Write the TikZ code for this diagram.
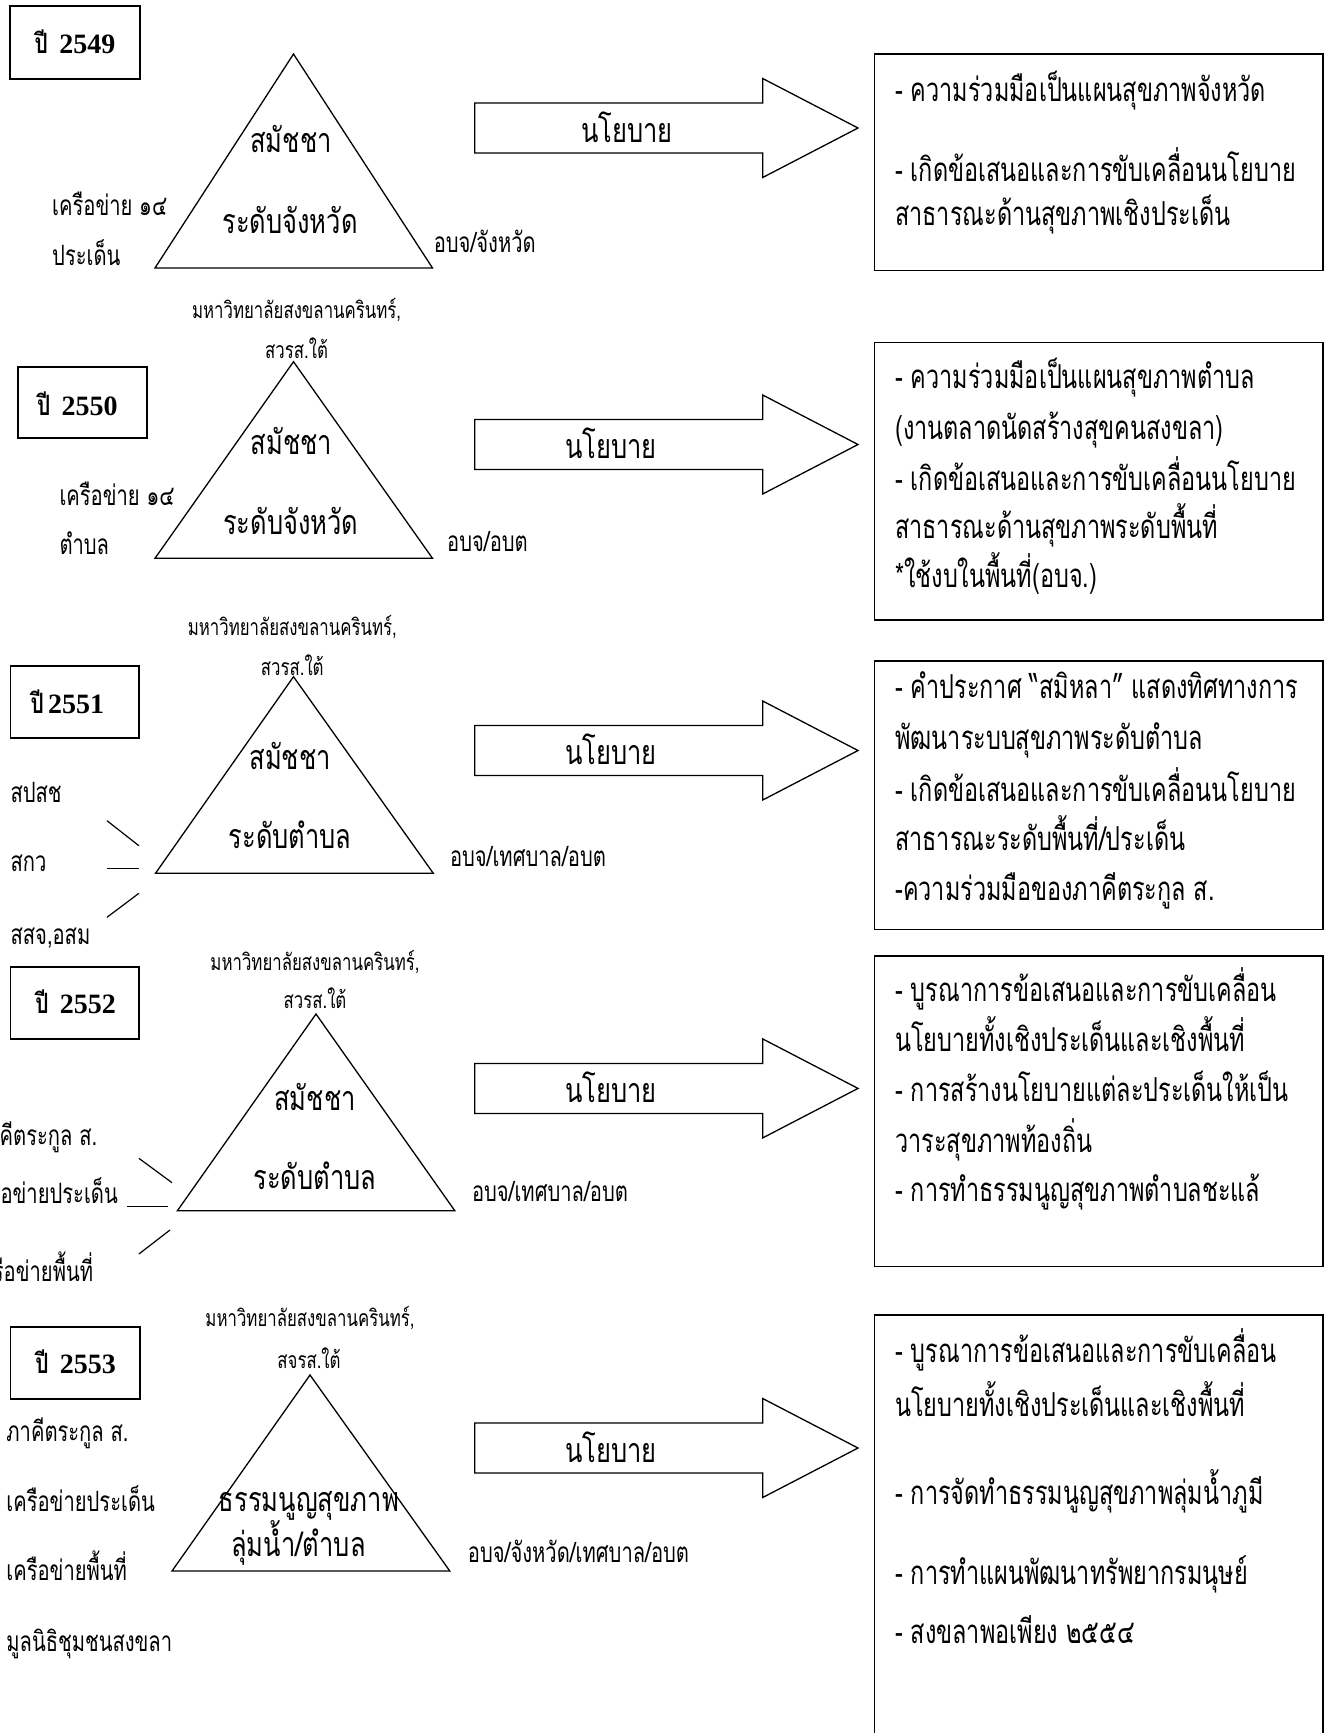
\documentclass[tikz,border=0pt]{standalone}
\usepackage{fontspec}
\setmainfont{Liberation Serif}
\newfontfamily\thai[Script=Thai,FakeStretch=0.75]{Loma}
\newfontfamily\thaibody[Script=Thai,FakeStretch=0.71]{Loma}
\newfontfamily\thaiside[Script=Thai,FakeStretch=0.72]{Loma}
\newfontfamily\thaismall[Script=Thai,FakeStretch=0.73]{Loma}
\tikzset{
  yearbox/.style={draw, line width=1.8pt, inner sep=0pt},
  yeartxt/.style={anchor=base, inner sep=0pt, font=\fontsize{28}{28}\selectfont\bfseries},
  tri/.style={draw, line width=1.3pt, line join=miter},
  arrowshape/.style={draw, line width=1.3pt},
  infobox/.style={draw, line width=1.3pt, inner sep=0pt},
  lbl/.style={anchor=base, inner sep=0pt, font=\thai\fontsize{34}{34}\selectfont},
  bodytxt/.style={anchor=base west, inner sep=0pt, font=\thaibody\fontsize{33}{33}\selectfont},
  sidel/.style={anchor=base west, inner sep=0pt, font=\thaiside\fontsize{28}{28}\selectfont},
  sider/.style={anchor=base east, inner sep=0pt, font=\thaiside\fontsize{28}{28}\selectfont},
  smalltxt/.style={anchor=base, inner sep=0pt, font=\thaismall\fontsize{23}{23}\selectfont},
  link/.style={draw, line width=1.2pt},
}
\newcommand\policyarrow[3]{%
  \draw[arrowshape] (474.7,#2-25) -- (762.7,#2-25) -- (762.7,#2-49.5) -- (858,#2)
    -- (762.7,#2+49.5) -- (762.7,#2+25) -- (474.7,#2+25) -- cycle;
  \node[lbl] (#1) at (#3,#2+14) {นโยบาย};}
\begin{document}
\begin{tikzpicture}[x=1pt,y=-1pt]
\useasboundingbox (0,0) rectangle (1330,1733);
\fill[white] (0,0) rectangle (1330,1733);

% ---------- 2549 ----------
\node[yearbox, minimum width=130, minimum height=73] (yb1) at (75,42.5) {};
\node[yeartxt] (yt1) at (75,53.4) {{\thai ปี}\hspace{0.4em}2549};
\coordinate (t1a) at (293.5,54);
\coordinate (t1l) at (155,268);
\coordinate (t1r) at (432.5,268);
\draw[tri] (t1a) -- (t1l) -- (t1r) -- cycle;
\node[lbl] (t1u) at (291,152) {สมัชชา};
\node[lbl] (t1d) at (290,233) {ระดับจังหวัด};
\node[sidel] (l1a) at (52,215) {เครือข่าย ๑๔};
\node[sidel] (l1b) at (52,265) {ประเด็น};
\node[sidel] (r1) at (433.6,252.5) {อบจ/จังหวัด};
\policyarrow{p1}{128}{627}
\node[infobox, minimum width=448.3, minimum height=216.7] (b1) at (1098.85,162.35) {};
\node[bodytxt] (b1l1) at (895,101) {- ความร่วมมือเป็นแผนสุขภาพจังหวัด};
\node[bodytxt] (b1l2) at (895,181.7) {- เกิดข้อเสนอและการขับเคลื่อนนโยบาย};
\node[bodytxt] (b1l3) at (895,225) {สาธารณะด้านสุขภาพเชิงประเด็น};

% ---------- 2550 ----------
\node[smalltxt] (s2a) at (296.6,318.3) {มหาวิทยาลัยสงขลานครินทร์,};
\node[smalltxt] (s2b) at (296.6,358.3) {สวรส.ใต้};
\node[yearbox, minimum width=128.6, minimum height=71.6] (yb2) at (82.3,402.5) {};
\node[yeartxt] (yt2) at (77.4,415) {{\thai ปี}\hspace{0.4em}2550};
\coordinate (t2a) at (293.5,361.7);
\coordinate (t2l) at (155,558.3);
\coordinate (t2r) at (432.5,558.3);
\draw[tri] (t2a) -- (t2l) -- (t2r) -- cycle;
\node[lbl] (t2u) at (291.6,454) {สมัชชา};
\node[lbl] (t2d) at (290.9,534.5) {ระดับจังหวัด};
\node[sidel] (l2a) at (59.3,505.5) {เครือข่าย ๑๔};
\node[sidel] (l2b) at (59.3,554.5) {ตำบล};
\node[sidel] (r2) at (447,551.7) {อบจ/อบต};
\policyarrow{p2}{444.5}{611}
\node[infobox, minimum width=448.3, minimum height=277.3] (b2) at (1098.85,481.35) {};
\node[bodytxt] (b2l1) at (895,388) {- ความร่วมมือเป็นแผนสุขภาพตำบล};
\node[bodytxt] (b2l2) at (895,439) {(งานตลาดนัดสร้างสุขคนสงขลา)};
\node[bodytxt] (b2l3) at (895,490) {- เกิดข้อเสนอและการขับเคลื่อนนโยบาย};
\node[bodytxt] (b2l4) at (895,538.5) {สาธารณะด้านสุขภาพระดับพื้นที่};
\node[bodytxt] (b2l5) at (895,587) {*ใช้งบในพื้นที่(อบจ.)};

% ---------- 2551 ----------
\node[smalltxt] (s3a) at (292.3,635) {มหาวิทยาลัยสงขลานครินทร์,};
\node[smalltxt] (s3b) at (292.3,675) {สวรส.ใต้};
\node[yearbox, minimum width=128.5, minimum height=72.3] (yb3) at (74.65,702.15) {};
\node[yeartxt] (yt3) at (67.4,713.3) {{\thai ปี}\hspace{0.15em}2551};
\coordinate (t3a) at (293.5,676.7);
\coordinate (t3l) at (155.5,873.3);
\coordinate (t3r) at (433.3,873.3);
\draw[tri] (t3a) -- (t3l) -- (t3r) -- cycle;
\node[lbl] (t3u) at (290.2,769.5) {สมัชชา};
\node[lbl] (t3d) at (290.2,848.5) {ระดับตำบล};
\node[sidel] (l3a) at (10.4,802) {สปสช};
\node[sidel] (l3b) at (10.4,871.5) {สกว};
\node[sidel] (l3c) at (10.4,944) {สสจ,อสม};
\coordinate (c3a1) at (107,820.7);  \coordinate (c3a2) at (138.9,845.7);
\coordinate (c3b1) at (107,868.3);  \coordinate (c3b2) at (138.9,868.3);
\coordinate (c3c1) at (107,917.3);  \coordinate (c3c2) at (138.9,893.3);
\draw[link] (c3a1) -- (c3a2);
\draw[link] (c3b1) -- (c3b2);
\draw[link] (c3c1) -- (c3c2);
\node[sidel] (r3) at (449.8,866) {อบจ/เทศบาล/อบต};
\policyarrow{p3}{750.5}{611}
\node[infobox, minimum width=448.3, minimum height=268.3] (b3) at (1098.85,795.15) {};
\node[bodytxt] (b3l1) at (895,698) {- คำประกาศ “สมิหลา” แสดงทิศทางการ};
\node[bodytxt] (b3l2) at (895,749) {พัฒนาระบบสุขภาพระดับตำบล};
\node[bodytxt] (b3l3) at (895,801) {- เกิดข้อเสนอและการขับเคลื่อนนโยบาย};
\node[bodytxt] (b3l4) at (895,850) {สาธารณะระดับพื้นที่/ประเด็น};
\node[bodytxt] (b3l5) at (895,900) {-ความร่วมมือของภาคีตระกูล ส.};

% ---------- 2552 ----------
\node[smalltxt] (s4a) at (315,970) {มหาวิทยาลัยสงขลานครินทร์,};
\node[smalltxt] (s4b) at (315,1008.3) {สวรส.ใต้};
\node[yearbox, minimum width=128.5, minimum height=72.3] (yb4) at (74.65,1002.85) {};
\node[yeartxt] (yt4) at (75.7,1013.3) {{\thai ปี}\hspace{0.4em}2552};
\coordinate (t4a) at (316,1014);
\coordinate (t4l) at (177.4,1210.7);
\coordinate (t4r) at (454.8,1210.7);
\draw[tri] (t4a) -- (t4l) -- (t4r) -- cycle;
\node[lbl] (t4u) at (315,1110.5) {สมัชชา};
\node[lbl] (t4d) at (315,1189.5) {ระดับตำบล};
\node[sider] (l4a) at (97.4,1145) {ภาคีตระกูล ส.};
\node[sider] (l4b) at (118,1203) {เครือข่ายประเด็น};
\node[sider] (l4c) at (93.3,1281) {เครือข่ายพื้นที่};
\coordinate (c4a1) at (138.9,1158.3); \coordinate (c4a2) at (172,1182.7);
\coordinate (c4b1) at (126.5,1206.7); \coordinate (c4b2) at (168,1206.7);
\coordinate (c4c1) at (138.9,1254);   \coordinate (c4c2) at (170,1230);
\draw[link] (c4a1) -- (c4a2);
\draw[link] (c4b1) -- (c4b2);
\draw[link] (c4c1) -- (c4c2);
\node[sidel] (r4) at (471.8,1201.7) {อบจ/เทศบาล/อบต};
\policyarrow{p4}{1088.4}{611}
\node[infobox, minimum width=448.3, minimum height=310.7] (b4) at (1098.85,1111.35) {};
\node[bodytxt] (b4l1) at (895,1001.7) {- บูรณาการข้อเสนอและการขับเคลื่อน};
\node[bodytxt] (b4l2) at (895,1051.7) {นโยบายทั้งเชิงประเด็นและเชิงพื้นที่};
\node[bodytxt] (b4l3) at (895,1101.7) {- การสร้างนโยบายแต่ละประเด็นให้เป็น};
\node[bodytxt] (b4l4) at (895,1152.5) {วาระสุขภาพท้องถิ่น};
\node[bodytxt] (b4l5) at (895,1201) {- การทำธรรมนูญสุขภาพตำบลชะแล้};

% ---------- 2553 ----------
\node[smalltxt] (s5a) at (310,1326.7) {มหาวิทยาลัยสงขลานครินทร์,};
\node[smalltxt] (s5b) at (309,1368.3) {สจรส.ใต้};
\node[yearbox, minimum width=129.3, minimum height=72.3] (yb5) at (75.05,1362.85) {};
\node[yeartxt] (yt5) at (75.7,1373.3) {{\thai ปี}\hspace{0.4em}2553};
\coordinate (t5a) at (310,1375);
\coordinate (t5l) at (172,1571);
\coordinate (t5r) at (449.8,1571);
\draw[tri] (t5a) -- (t5l) -- (t5r) -- cycle;
\node[lbl] (t5u) at (308.9,1511.7) {ธรรมนูญสุขภาพ};
\node[lbl] (t5d) at (298.5,1556.7) {ลุ่มน้ำ/ตำบล};
\node[sidel] (l5a) at (6.2,1441.5) {ภาคีตระกูล ส.};
\node[sidel] (l5b) at (6.2,1511.5) {เครือข่ายประเด็น};
\node[sidel] (l5c) at (6.2,1580.5) {เครือข่ายพื้นที่};
\node[sidel] (l5d) at (6.2,1651.5) {มูลนิธิชุมชนสงขลา};
\node[sidel] (r5) at (467.7,1562.7) {อบจ/จังหวัด/เทศบาล/อบต};
\policyarrow{p5}{1448}{611}
\node[infobox, minimum width=448.3, minimum height=445] (b5) at (1098.85,1537.5) {};
\node[bodytxt] (b5l1) at (895,1362) {- บูรณาการข้อเสนอและการขับเคลื่อน};
\node[bodytxt] (b5l2) at (895,1416) {นโยบายทั้งเชิงประเด็นและเชิงพื้นที่};
\node[bodytxt] (b5l3) at (895,1504) {- การจัดทำธรรมนูญสุขภาพลุ่มน้ำภูมี};
\node[bodytxt] (b5l4) at (895,1584.5) {- การทำแผนพัฒนาทรัพยากรมนุษย์};
\node[bodytxt] (b5l5) at (895,1643.3) {- สงขลาพอเพียง ๒๕๕๔};
\end{tikzpicture}
\end{document}
